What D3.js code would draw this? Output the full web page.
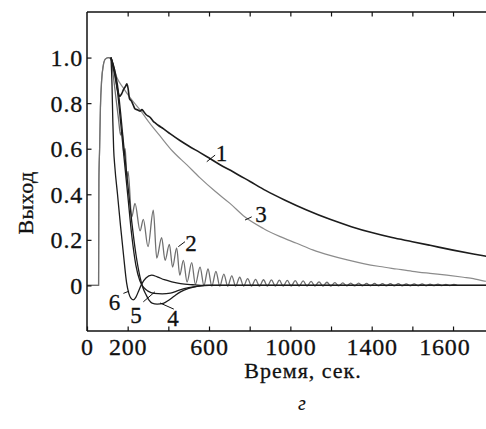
<!DOCTYPE html>
<html><head><meta charset="utf-8">
<script src="https://cdn.jsdelivr.net/npm/d3@7"></script>
<style>
html,body{margin:0;padding:0;background:#fff;}
svg{display:block;}
text{font-family:"Liberation Serif","Times New Roman",serif;fill:#111;stroke:#111;stroke-width:0.3px;}
</style></head>
<body>
<svg id="chart" width="486" height="429"></svg>
<script>
// ---- data (time in seconds, output normalised) ----
const xTickValues = [0,200,400,600,800,1000,1200,1400,1600,1800];
const xTickLabels = [0,200,600,1000,1400,1600];
const yTickValues = [0,0.2,0.4,0.6,0.8,1.0];
const xTitle = "Время, сек.";
const yTitle = "Выход";
const panelLetter = "г";

const curve1 = [[118,1.0],[128,0.96],[138,0.92],[150,0.86],[160,0.83],[170,0.84],[180,0.86],[190,0.875],[196,0.885],[202,0.865],[209,0.82],[218,0.81],[228,0.79],[236,0.775],[250,0.77],[262,0.765],[270,0.772],[277,0.765],[290,0.75],[310,0.738],[326,0.72],[340,0.71],[350,0.703],[375,0.688],[410,0.665],[457,0.636],[500,0.612],[556,0.583],[590,0.565],[650,0.532],[720,0.498],[802,0.456],[880,0.416],[974,0.374],[1080,0.331],[1195,0.29],[1300,0.258],[1400,0.232],[1500,0.21],[1600,0.192],[1687,0.176],[1800,0.155],[1900,0.138],[1962,0.128],[2000,0.122]];

const curve2 = [[0,0],[57,0],[58.5,0.46],[62,0.6],[66,0.78],[72,0.9],[80,0.965],[90,0.993],[105,1.0],[118,0.995],[128,0.93],[140,0.84],[155,0.73],[165,0.66],[172,0.68],[182,0.57],[188,0.6],[196,0.47],[202,0.5],[220,0.3],[236,0.36],[261,0.24],[277,0.29],[300,0.17],[326,0.33],[343,0.12],[367,0.21],[384,0.11],[405,0.18],[421,0.08],[441,0.165],[456,0.045],[474,0.11],[492,0.015],[515,0.1],[533,0.005],[556,0.08],[575,0.0],[595,0.072],[614,-0.003],[634,0.062],[653,-0.003],[673,0.05],[692,-0.003],[712,0.042],[731,-0.003],[751,0.036],[770,-0.003],[790,0.03],[809,-0.003],[829,0.027],[848,-0.003],[868,0.025],[887,-0.003],[907,0.024],[926,-0.003],[946,0.023],[965,-0.003],[985,0.022],[1004,-0.003],[1024,0.021],[1043,-0.003],[1063,0.02],[1082,-0.003],[1102,0.018],[1121,-0.003],[1141,0.016],[1160,-0.003],[1180,0.014],[1199,-0.003],[1219,0.012],[1238,-0.002],[1258,0.011],[1277,-0.002],[1297,0.01],[1316,-0.002],[1336,0.01],[1355,-0.002],[1375,0.009],[1394,-0.002],[1414,0.009],[1433,-0.002],[1453,0.008],[1472,-0.002],[1492,0.008],[1511,-0.002],[1531,0.008],[1550,-0.002],[1570,0.007],[1589,-0.002],[1609,0.007],[1628,-0.002],[1648,0.007],[1667,-0.002],[1687,0.006],[1706,-0.001],[1726,0.006],[1745,-0.001],[1765,0.005],[1784,-0.001],[1804,0.005],[1820,0]];

const curve3 = [[0,0],[57,0],[58.5,0.46],[62,0.6],[66,0.78],[72,0.9],[80,0.965],[90,0.993],[105,1.0],[118,0.995],[146,0.915],[180,0.865],[211,0.825],[261,0.77],[310,0.71],[360,0.655],[420,0.59],[490,0.53],[556,0.472],[630,0.413],[703,0.36],[777,0.3],[867,0.25],[950,0.214],[1031,0.185],[1110,0.156],[1195,0.132],[1280,0.112],[1359,0.096],[1440,0.083],[1523,0.072],[1600,0.062],[1687,0.053],[1770,0.045],[1851,0.036],[1900,0.03],[1948,0.02],[2000,0.016]];

const curve4 = [[118,1.0],[135,0.95],[150,0.88],[165,0.76],[180,0.62],[200,0.45],[220,0.28],[240,0.14],[260,0.04],[275,-0.01],[290,-0.04],[305,-0.065],[320,-0.078],[345,-0.082],[375,-0.079],[400,-0.066],[430,-0.046],[460,-0.028],[500,-0.013],[540,-0.004],[580,0],[2000,0]];

const curve5 = [[118,1.0],[135,0.94],[150,0.85],[165,0.72],[180,0.58],[200,0.4],[220,0.22],[240,0.09],[260,0.02],[280,-0.01],[300,-0.025],[330,-0.035],[370,-0.037],[410,-0.034],[450,-0.022],[500,-0.01],[550,-0.003],[600,0],[2000,0]];

const curve6 = [[118,1.0],[123,0.88],[127,0.72],[131,0.6],[137,0.52],[150,0.4],[165,0.26],[180,0.13],[195,0.01],[205,-0.033],[215,-0.055],[227,-0.063],[240,-0.052],[255,-0.022],[270,0.008],[290,0.033],[318,0.045],[345,0.038],[380,0.025],[417,0.016],[460,0.008],[520,0.003],[580,0],[2000,0]];

// label data: [text, label time, label value, leader from time, from value, to time, to value]
const curveLabels = [
  ["1", 661, 0.546, 589, 0.543, 630, 0.572],
  ["2", 511, 0.149, 449, 0.17, 482, 0.192],
  ["3", 856, 0.28, 777, 0.287, 810, 0.301],
  ["4", 423, -0.18, 427, -0.104, 359, -0.077],
  ["5", 241, -0.165, 277, -0.072, 334, -0.028],
  ["6", 135, -0.108, 179, -0.035, 207, -0.025]
];

// ---- drawing ----
const svg = d3.select("#chart");
const x = d3.scaleLinear().domain([0, 2000]).range([87, 493.7]);
const y = d3.scaleLinear().domain([-0.2, 1.2]).range([331, 12]);

const line = d3.line().x(d => x(d[0])).y(d => y(d[1])).curve(d3.curveMonotoneX);

const series = [
  {data: curve3, color: "#8c8c8c", w: 1.2},
  {data: curve2, color: "#6f6f6f", w: 1.3},
  {data: curve4, color: "#1c1c1c", w: 1.3},
  {data: curve5, color: "#1c1c1c", w: 1.3},
  {data: curve6, color: "#1c1c1c", w: 1.3},
  {data: curve1, color: "#1c1c1c", w: 1.6}
];
svg.append("g").selectAll("path").data(series).join("path")
  .attr("d", d => line(d.data))
  .attr("fill", "none")
  .attr("stroke", d => d.color)
  .attr("stroke-width", d => d.w)
  .attr("stroke-linejoin", "round");

// frame
const frame = svg.append("g").attr("stroke", "#111").attr("stroke-width", 1.5).attr("fill", "none");
frame.append("line").attr("x1", x(0)).attr("x2", x(0)).attr("y1", y(1.2)).attr("y2", y(-0.2));
frame.append("line").attr("x1", x(0)).attr("x2", x(2000)).attr("y1", y(-0.2)).attr("y2", y(-0.2));
frame.append("line").attr("x1", x(0)).attr("x2", x(2000)).attr("y1", y(1.2)).attr("y2", y(1.2));

// bottom axis
const xAxis = d3.axisBottom(x).tickValues(xTickValues).tickSize(-4.5).tickPadding(7)
  .tickFormat(d => xTickLabels.includes(d) ? String(d) : "");
const gx = svg.append("g").attr("transform", `translate(0,${y(-0.2)})`).call(xAxis);
gx.select(".domain").remove();
gx.selectAll(".tick line").attr("stroke", "#111").attr("stroke-width", 1.2);
gx.selectAll(".tick text").attr("font-size", 24).attr("letter-spacing", 0.8)
  .attr("font-family", '"Liberation Serif", serif').attr("fill", "#111");
gx.selectAll(".tick text").filter(d => d === 1600).attr("dx", 32);

// top ticks
const xTop = d3.axisTop(x).tickValues(xTickValues.filter(d => d > 0)).tickSize(-4.5).tickFormat("");
const gt = svg.append("g").attr("transform", `translate(0,${y(1.2)})`).call(xTop);
gt.select(".domain").remove();
gt.selectAll(".tick line").attr("stroke", "#111").attr("stroke-width", 1.2);

// left axis
const yAxis = d3.axisLeft(y).tickValues(yTickValues).tickSize(-4.5).tickPadding(4)
  .tickFormat(d => d === 0 ? "0" : d3.format(".1f")(d));
const gy = svg.append("g").attr("transform", `translate(${x(0)},0)`).call(yAxis);
gy.select(".domain").remove();
gy.selectAll(".tick line").attr("stroke", "#111").attr("stroke-width", 1.2);
gy.selectAll(".tick text").attr("font-size", 24).attr("letter-spacing", 0.8)
  .attr("font-family", '"Liberation Serif", serif').attr("fill", "#111").attr("dy", "0.33em");

// titles
svg.append("text").attr("x", 303).attr("y", 378).attr("text-anchor", "middle")
  .attr("font-size", 22).attr("letter-spacing", 1).text(xTitle);
svg.append("text").attr("transform", "translate(33,203) rotate(-90)").attr("text-anchor", "middle")
  .attr("font-size", 22).attr("letter-spacing", 0.4).text(yTitle);
svg.append("text").attr("x", 302).attr("y", 410).attr("text-anchor", "middle")
  .attr("font-size", 20).attr("font-style", "italic").style("stroke-width", "0.1px").text(panelLetter);

// curve labels with leader lines
const lg = svg.append("g");
lg.selectAll("line").data(curveLabels).join("line")
  .attr("x1", d => x(d[3])).attr("y1", d => y(d[4]))
  .attr("x2", d => x(d[5])).attr("y2", d => y(d[6]))
  .attr("stroke", "#111").attr("stroke-width", 1);
lg.selectAll("text").data(curveLabels).join("text")
  .attr("x", d => x(d[1])).attr("y", d => y(d[2]))
  .attr("text-anchor", "middle").attr("font-size", 23).text(d => d[0]);
</script>
</body></html>
